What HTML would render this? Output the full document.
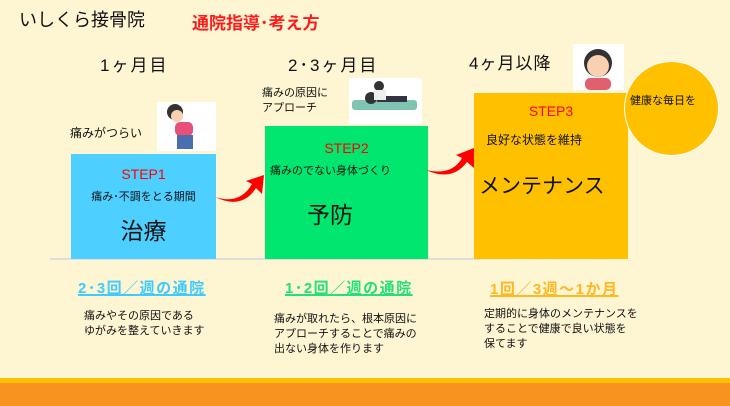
<!DOCTYPE html>
<html><head><meta charset="utf-8"><style>
body{margin:0;width:730px;height:406px;overflow:hidden;background:#FEF5D3;position:relative;font-family:"Liberation Sans","Noto Sans CJK JP",sans-serif;color:#111}
.a{position:absolute;white-space:nowrap}
.box{position:absolute}
.u{font-weight:bold;font-size:15px;letter-spacing:1.5px;text-decoration:underline;text-decoration-thickness:2px}
.d{font-size:11px;line-height:15px}
</style></head><body>
<div class="a" style="left:19px;top:6px;font-size:18px">いしくら接骨院</div>
<div class="a" style="left:192px;top:9px;font-size:17px;color:#FF1A1A;font-weight:bold">通院指導･考え方</div>
<div class="a" style="left:100px;top:51px;font-size:17px;letter-spacing:2px">1ヶ月目</div>
<div class="a" style="left:288px;top:51px;font-size:17px;letter-spacing:2px">2･3ヶ月目</div>
<div class="a" style="left:469px;top:49px;font-size:17px;letter-spacing:1px">4ヶ月以降</div>
<div style="position:absolute;left:50px;top:258px;width:430px;height:2px;background:#ddd"></div>

<div class="box" style="left:71px;top:154px;width:145px;height:105px;background:#4DCFFF;text-align:center">
<div style="color:#f00;font-size:14px;margin-top:12px">STEP1</div>
<div style="font-size:11px;margin-top:6px">痛み･不調をとる期間</div>
<div style="font-size:23px;margin-top:8px">治療</div></div>
<div class="a" style="left:70px;top:124px;font-size:12px">痛みがつらい</div>
<div style="position:absolute;left:157px;top:102px;width:59px;height:49px;background:#fff"></div>
<svg style="position:absolute;left:157px;top:102px" width="59" height="49"><circle cx="18" cy="10" r="8" fill="#333"/><circle cx="20" cy="14" r="6" fill="#f9d0b0"/><rect x="18" y="20" width="18" height="14" rx="5" fill="#e8507a"/><rect x="20" y="33" width="16" height="14" fill="#4a6fb0"/></svg>

<div class="box" style="left:265px;top:126px;width:163px;height:133px;background:#00E66F">
<div style="color:#f00;font-size:14px;margin-top:14px;text-align:center">STEP2</div>
<div style="font-size:11px;margin-top:6px;margin-left:5px">痛みのでない身体づくり</div>
<div style="font-size:23px;margin-top:18px;margin-left:42px">予防</div></div>
<div class="a" style="left:262px;top:86px;font-size:11px;line-height:15px">痛みの原因に<br>アプローチ</div>
<div style="position:absolute;left:349px;top:78px;width:73px;height:46px;background:#fff"></div>
<svg style="position:absolute;left:349px;top:78px" width="73" height="46"><rect x="3" y="22" width="65" height="10" rx="3" fill="#7fc4b0"/><circle cx="22" cy="20" r="6" fill="#333"/><rect x="28" y="18" width="30" height="6" fill="#334"/><circle cx="30" cy="8" r="5" fill="#333"/><rect x="25" y="12" width="12" height="10" fill="#eee"/></svg>

<div class="box" style="left:474px;top:93px;width:154px;height:166px;background:#FFC000">
<div style="color:#f00;font-size:14px;margin-top:10px;text-align:center">STEP3</div>
<div style="font-size:12px;margin-top:12px;margin-left:12px">良好な状態を維持</div>
<div style="font-size:21px;margin-top:22px;margin-left:5px">メンテナンス</div></div>
<div style="position:absolute;left:624px;top:61px;width:93px;height:93px;border-radius:50%;background:#FFC000;border:1px solid #fff"></div>
<div class="a" style="left:630px;top:92px;font-size:11px">健康な毎日を</div>
<div style="position:absolute;left:573px;top:44px;width:51px;height:46px;background:#fff"></div>
<svg style="position:absolute;left:573px;top:44px" width="51" height="46"><circle cx="25" cy="19" r="14" fill="#333"/><circle cx="25" cy="22" r="11" fill="#f9d0b0"/><rect x="12" y="34" width="26" height="12" rx="5" fill="#e06070"/></svg>

<svg style="position:absolute;left:0;top:0" width="730" height="406">
<path d="M215 197 Q240 205 252 184 L246 181 L264 175 L262 194 L256 188 Q242 210 215 197Z" fill="#f00"/>
<path d="M426 170 Q452 176 462 158 L456 155 L474 148 L474 168 L467 162 Q452 182 426 170Z" fill="#f00"/>
</svg>

<div class="a u" style="left:78px;top:277px;color:#3ECBFF">2･3回／週の通院</div>
<div class="a u" style="left:285px;top:277px;color:#22E07A">1･2回／週の通院</div>
<div class="a u" style="left:490px;top:278px;color:#FFB820">1回／3週〜1か月</div>
<div class="a d" style="left:84px;top:309px">痛みやその原因である<br>ゆがみを整えていきます</div>
<div class="a d" style="left:274px;top:312px">痛みが取れたら、根本原因に<br>アプローチすることで痛みの<br>出ない身体を作ります</div>
<div class="a d" style="left:484px;top:307px">定期的に身体のメンテナンスを<br>することで健康で良い状態を<br>保てます</div>

<div style="position:absolute;left:0;top:378px;width:730px;height:5px;background:#FFC000"></div>
<div style="position:absolute;left:0;top:383px;width:730px;height:23px;background:#F7931E"></div>
</body></html>
